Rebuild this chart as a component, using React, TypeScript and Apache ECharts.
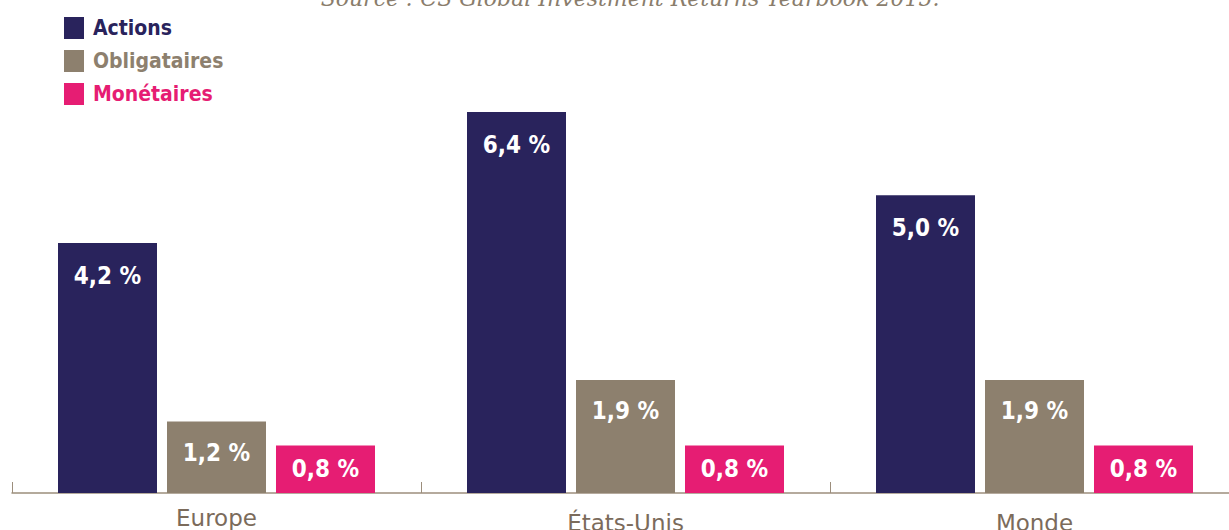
import React, { useEffect, useRef } from "react";
import * as echarts from "echarts";

const categories = ["Europe", "États-Unis", "Monde"];
const seriesNames = ["Actions", "Obligataires", "Monétaires"];
const actions = [4.2, 6.4, 5.0];
const obligataires = [1.2, 1.9, 1.9];
const monetaires = [0.8, 0.8, 0.8];
const sourceText = "Source : CS Global Investment Returns Yearbook 2015.";

const colors = ["#29235c", "#8d806e", "#e61d73"];
const FONT = "'DejaVu Sans Condensed', 'DejaVu Sans', sans-serif";
const labelShift = [0, 5, 5];

const fmt = (v: number) => v.toFixed(1).replace(".", ",") + " %";

export default function App() {
  const ref = useRef<HTMLDivElement>(null);
  useEffect(() => {
    document.body.style.margin = "0";
    const chart = echarts.init(ref.current!, undefined, { renderer: "svg" });
    const mk = (name: string, data: number[], i: number, dist: number) => ({
      name,
      type: "bar",
      data,
      barWidth: 99,
      barGap: "10.1%",
      itemStyle: { color: colors[i] },
      label: {
        show: true,
        position: "insideTop",
        distance: dist,
        color: "#ffffff",
        fontFamily: FONT,
        fontWeight: "bold",
        fontSize: 24,
        formatter: (p: any) => fmt(p.value),
      },
    });
    chart.setOption({
      animation: false,
      graphic: [
        {
          type: "text",
          x: 630,
          y: 9,
          style: {
            text: sourceText,
            fontStyle: "italic",
            fontSize: 22,
            fontFamily: "'DejaVu Serif', serif",
            fill: "#8a7d6c",
            align: "center",
            verticalAlign: "bottom",
          },
        },
      ],
      legend: {
        orient: "vertical",
        left: 59,
        top: 12,
        itemWidth: 20,
        itemHeight: 22,
        itemGap: 11,
        icon: "rect",
        selectedMode: false,
        data: seriesNames.map((n, i) => ({
          name: n,
          textStyle: { color: colors[i] },
        })),
        textStyle: {
          fontFamily: FONT,
          fontWeight: "bold",
          fontSize: 21,
          padding: [0, 0, 0, 4],
        },
      },
      grid: {
        left: 12,
        top: 112,
        width: 1227,
        bottom: 37,
        outerBoundsMode: "none",
        containLabel: false,
      },
      xAxis: {
        type: "category",
        data: categories.map((c, i) => ({
          value: c,
          textStyle: { padding: [labelShift[i], 0, 0, 0] },
        })),
        axisLine: { show: true, lineStyle: { color: "#9c8e7c", width: 1.5 } },
        axisTick: {
          show: true,
          inside: true,
          length: 11,
          lineStyle: { color: "#9c8e7c", width: 1 },
        },
        axisLabel: {
          color: "#7b6b5b",
          fontFamily: "'DejaVu Sans', sans-serif",
          fontSize: 23,
          margin: 13,
        },
      },
      yAxis: {
        type: "value",
        min: 0,
        max: 6.4,
        show: false,
        splitLine: { show: false },
      },
      series: [
        mk(seriesNames[0], actions, 0, 21),
        mk(seriesNames[1], obligataires, 1, 19),
        mk(seriesNames[2], monetaires, 2, 12),
      ],
    });
    return () => chart.dispose();
  }, []);
  return (
    <div
      ref={ref}
      style={{ position: "absolute", left: 0, top: 0, width: 1229, height: 530 }}
    />
  );
}
